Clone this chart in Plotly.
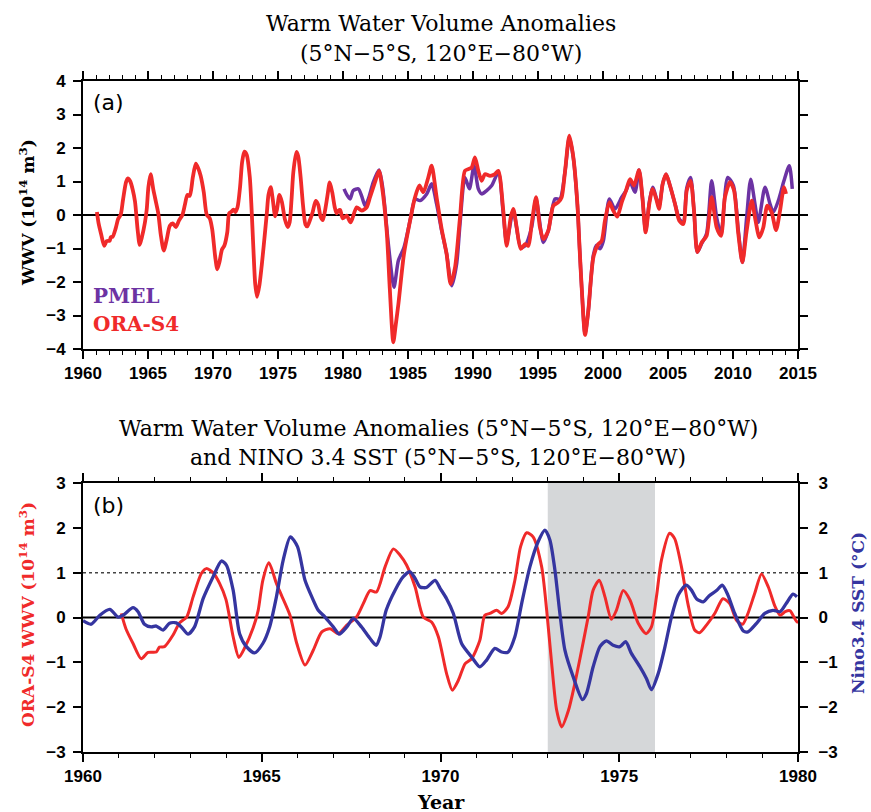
import plotly.graph_objects as go

# ---------------- data ----------------
ora_years = [1961.07, 1961.2, 1961.4, 1961.63, 1961.82, 1962.05, 1962.14, 1962.28, 1962.52, 1962.7, 1962.9,
             1963.08, 1963.31, 1963.45, 1963.64, 1963.82, 1964.0, 1964.2, 1964.36, 1964.52, 1964.76, 1964.9,
             1965.03, 1965.2, 1965.41, 1965.55, 1965.79, 1965.98, 1966.21, 1966.44, 1966.68, 1966.91, 1967.14,
             1967.38, 1967.65, 1967.84, 1968.03, 1968.21, 1968.45, 1968.68, 1968.87, 1969.05, 1969.29, 1969.52,
             1969.75, 1969.94, 1970.17, 1970.33, 1970.5, 1970.69, 1970.87, 1971.1, 1971.24, 1971.38, 1971.57,
             1971.71, 1971.89, 1972.08, 1972.24, 1972.41, 1972.59, 1972.83, 1972.97, 1973.11, 1973.25, 1973.39,
             1973.58, 1973.75, 1973.9, 1974.13, 1974.27, 1974.44, 1974.6, 1974.78, 1974.92, 1975.11, 1975.3,
             1975.53, 1975.75, 1975.9, 1976.04, 1976.18, 1976.41, 1976.55, 1976.74, 1976.92, 1977.11, 1977.25,
             1977.44, 1977.67, 1977.9, 1978.09, 1978.28, 1978.45, 1978.6, 1978.79, 1978.98, 1979.17, 1979.36,
             1979.5, 1979.64, 1979.78, 1979.98,
             1980.28, 1980.59, 1981.05, 1981.44, 1981.82, 1982.08, 1982.46, 1982.77, 1982.97, 1983.36, 1983.6,
             1983.87, 1984.05, 1984.26, 1984.69, 1985.21, 1985.54, 1985.87, 1986.18, 1986.56, 1986.82, 1987.2,
             1987.59, 1987.97, 1988.28, 1988.62, 1989.0, 1989.38, 1989.64, 1989.9, 1990.15, 1990.41, 1990.67,
             1990.92, 1991.31, 1991.69, 1991.95, 1992.33, 1992.59, 1992.9, 1993.1, 1993.36, 1993.67, 1994.0,
             1994.26, 1994.51, 1994.85, 1995.15, 1995.41, 1995.79, 1996.18, 1996.56, 1996.82, 1997.08, 1997.41,
             1997.72, 1998.03, 1998.2, 1998.36, 1998.62, 1998.87, 1999.26, 1999.64, 1999.9, 2000.15, 2000.49,
             2000.79, 2001.1, 2001.44, 2001.77, 2002.08, 2002.38, 2002.77, 2003.03, 2003.28, 2003.56, 2003.82,
             2004.13, 2004.31, 2004.59, 2004.85, 2005.15, 2005.54, 2005.87, 2006.18, 2006.44, 2006.74, 2007.0,
             2007.26, 2007.59, 2007.97, 2008.36, 2008.74, 2009.08, 2009.38, 2009.77, 2010.08, 2010.41, 2010.72,
             2011.05, 2011.44, 2011.69, 2012.03, 2012.33, 2012.64, 2012.97, 2013.31, 2013.62, 2013.92, 2014.08]
ora_wwv = [0.09, -0.25, -0.58, -0.92, -0.78, -0.77, -0.66, -0.65, -0.39, -0.12, 0.01,
           0.46, 0.98, 1.09, 1.0, 0.76, 0.4, -0.43, -0.89, -0.68, -0.23, 0.16,
           0.83, 1.22, 0.76, 0.5, 0.05, -0.58, -1.06, -0.73, -0.32, -0.25, -0.36,
           -0.17, 0.01, 0.31, 0.6, 0.57, 1.13, 1.53, 1.39, 1.17, 0.68, 0.01,
           -0.1, -0.43, -1.25, -1.62, -1.4, -1.03, -0.92, -0.51, 0.05, 0.09, 0.16,
           0.09, 0.24, 0.83, 1.58, 1.89, 1.8, 1.13, 0.16, -1.03, -2.07, -2.44,
           -2.07, -1.5, -0.92, 0.01, 0.61, 0.83, 0.46, -0.04, 0.16, 0.6, 0.39,
           -0.13, -0.36, -0.21, 0.46, 1.28, 1.88, 1.76, 1.13, 0.31, -0.28, -0.34,
           -0.17, 0.09, 0.42, 0.31, -0.06, -0.15, 0.09, 0.54, 0.97, 0.68, 0.24,
           0.05, 0.13, 0.15, -0.1,
           -0.02, -0.22, 0.23, 0.13, 0.23, 0.53, 0.98, 1.32, 0.93, -0.47, -2.2,
           -3.8, -3.3, -2.66, -1.16, -0.07, 0.53, 0.88, 0.68, 1.12, 1.47, 0.53,
           -0.42, -1.16, -2.06, -1.56, -0.07, 1.32, 1.37, 1.42, 1.72, 1.32, 1.02,
           1.22, 1.17, 1.22, 1.32, 0.13, -0.92, -0.07, 0.18, -0.37, -1.01, -0.87,
           -0.92, -0.27, 0.53, -0.37, -0.72, -0.47, 0.28, 0.38, 0.53, 1.3, 2.37,
           1.72, 0.33, -1.0, -2.16, -3.58, -2.86, -1.26, -0.87, -0.77, -0.17, 0.38,
           0.13, -0.05, 0.38, 0.73, 1.07, 0.88, 1.34, 0.53, -0.52, 0.33, 0.78,
           0.43, 0.18, 0.93, 1.22, 0.88, 0.33, -0.17, -0.27, 0.73, 1.02, 0.13,
           -1.11, -0.82, -0.62, 0.53, -0.37, -0.62, 0.53, 0.98, 0.73, -0.57, -1.41,
           -0.47, 0.43, -0.07, -0.67, -0.37, 0.28, 0.08, -0.45, 0.13, 0.83, 0.63]

pmel_years = [1980.08, 1980.3, 1980.54, 1980.79, 1981.18, 1981.45, 1981.69, 1981.95, 1982.33, 1982.77, 1983.05,
              1983.49, 1983.92, 1984.26, 1984.69, 1985.21, 1985.54, 1985.92, 1986.44, 1986.82, 1987.2, 1987.59,
              1987.97, 1988.36, 1988.74, 1989.0, 1989.38, 1989.72, 1990.08, 1990.41, 1990.67, 1991.05, 1991.44,
              1991.95, 1992.33, 1992.59, 1993.1, 1993.67, 1994.0, 1994.51, 1994.85, 1995.41, 1995.79, 1996.31,
              1996.69, 1997.08, 1997.41, 1997.72, 1998.03, 1998.2, 1998.36, 1998.62, 1998.87, 1999.26, 1999.5,
              1999.77, 2000.03, 2000.49, 2000.92, 2001.44, 2001.77, 2002.08, 2002.46, 2002.77, 2003.03, 2003.28,
              2003.56, 2003.82, 2004.31, 2004.59, 2004.85, 2005.15, 2005.54, 2005.87, 2006.18, 2006.44, 2006.74,
              2007.0, 2007.26, 2007.59, 2007.97, 2008.36, 2008.74, 2009.08, 2009.59, 2010.03, 2010.41, 2010.72,
              2011.05, 2011.36, 2011.69, 2011.95, 2012.46, 2012.85, 2013.1, 2013.49, 2013.92, 2014.33, 2014.56]
pmel_wwv = [0.78, 0.6, 0.48, 0.73, 0.78, 0.55, 0.28, 0.48, 0.98, 1.34, 0.83,
            -0.87, -2.16, -1.36, -0.97, -0.07, 0.48, 0.43, 0.63, 0.93, 0.33, -0.47,
            -1.16, -2.11, -1.46, -0.27, 1.12, 0.78, 1.47, 0.78, 0.63, 0.73, 0.88,
            1.27, 0.03, -0.82, 0.13, -0.97, -0.92, -0.37, 0.48, -0.82, -0.47, 0.48,
            0.48, 1.3, 2.32, 1.7, 0.3, -1.0, -2.16, -3.55, -2.86, -1.2, -0.9,
            -1.01, -0.77, 0.48, 0.18, 0.53, 0.73, 0.98, 0.68, 1.34, 0.53, -0.48,
            0.38, 0.83, 0.28, 0.93, 1.22, 0.88, 0.33, -0.12, -0.22, 0.8, 1.12,
            0.13, -1.11, -0.85, -0.55, 1.02, -0.07, -0.57, 1.12, 0.88, -0.47, -1.41,
            -0.07, 1.07, 0.33, -0.22, 0.83, 0.33, 0.08, 0.43, 1.02, 1.47, 0.78]

nino_years = [1960.0, 1960.23, 1960.47, 1960.75, 1960.98, 1961.12, 1961.4, 1961.54, 1961.72, 1961.91, 1962.05,
              1962.24, 1962.42, 1962.61, 1962.75, 1962.94, 1963.12, 1963.36, 1963.64, 1963.87, 1964.01, 1964.2,
              1964.38, 1964.57, 1964.8, 1965.03, 1965.22, 1965.41, 1965.6, 1965.8, 1966.0, 1966.21, 1966.4,
              1966.58, 1966.77, 1967.0, 1967.17, 1967.38, 1967.56, 1967.79, 1968.03, 1968.2, 1968.31, 1968.48,
              1968.73, 1968.96, 1969.15, 1969.29, 1969.43, 1969.61, 1969.85, 1969.99, 1970.17, 1970.36, 1970.59,
              1970.87, 1971.1, 1971.29, 1971.52, 1971.71, 1971.89, 1972.08, 1972.27, 1972.5, 1972.73, 1972.92,
              1973.06, 1973.2, 1973.34, 1973.48, 1973.71, 1973.97, 1974.08, 1974.27, 1974.46, 1974.64, 1974.83,
              1975.02, 1975.18, 1975.34, 1975.58, 1975.76, 1975.9, 1976.09, 1976.28, 1976.46, 1976.65, 1976.87,
              1977.02, 1977.16, 1977.35, 1977.51, 1977.72, 1977.88, 1978.04, 1978.23, 1978.47, 1978.6, 1978.84,
              1979.07, 1979.3, 1979.5, 1979.67, 1979.86, 1979.97]
nino_sst = [-0.07, -0.15, 0.05, 0.18, 0.01, 0.05, 0.22, 0.13, -0.15, -0.21, -0.19,
            -0.28, -0.13, -0.12, -0.21, -0.37, -0.21, 0.42, 0.91, 1.26, 1.17, 0.61,
            -0.36, -0.65, -0.79, -0.58, -0.21, 0.46, 1.28, 1.8, 1.58, 0.83, 0.46,
            0.16, 0.01, -0.21, -0.37, -0.21, -0.02, -0.21, -0.47, -0.62, -0.43, 0.16,
            0.61, 0.91, 1.02, 0.87, 0.68, 0.67, 0.83, 0.65, 0.42, 0.09, -0.58,
            -0.88, -1.1, -0.95, -0.69, -0.77, -0.77, -0.43, 0.31, 1.13, 1.69, 1.95,
            1.73, 1.06, 0.09, -0.73, -1.32, -1.83, -1.7, -1.1, -0.65, -0.52, -0.62,
            -0.65, -0.54, -0.8, -1.1, -1.36, -1.61, -1.25, -0.65, 0.01, 0.5, 0.72,
            0.61, 0.42, 0.35, 0.48, 0.6, 0.72, 0.5, 0.09, -0.3, -0.32, -0.13,
            0.09, 0.16, 0.13, 0.31, 0.52, 0.46]

shade_period = [1973, 1976]
threshold = 1

# ---------------- styles ----------------
RED = "#f02a2a"
PURPLE = "#6c33a3"
BLUE = "#3535a0"
W, H = 871, 812
TICKFONT = dict(family="Liberation Sans, Arial, sans-serif", size=17, color="black", weight="bold")
TITLEFONT = dict(family="DejaVu Serif, serif", size=22, color="black")

fig = go.Figure()

# panel (a)
fig.add_trace(go.Scatter(x=pmel_years, y=pmel_wwv, mode="lines", name="PMEL",
                         line=dict(color=PURPLE, width=3.5, shape="spline", smoothing=0.7),
                         xaxis="x", yaxis="y", showlegend=False))
fig.add_trace(go.Scatter(x=ora_years, y=ora_wwv, mode="lines", name="ORA-S4",
                         line=dict(color=RED, width=3.8, shape="spline", smoothing=0.7),
                         xaxis="x", yaxis="y", showlegend=False))
# panel (b)
fig.add_trace(go.Scatter(x=ora_years, y=ora_wwv, mode="lines", name="ORA-S4 WWV",
                         line=dict(color=RED, width=3, shape="spline", smoothing=0.7),
                         xaxis="x2", yaxis="y2", showlegend=False))
fig.add_trace(go.Scatter(x=nino_years, y=nino_sst, mode="lines", name="Nino3.4 SST",
                         line=dict(color=BLUE, width=3.3, shape="spline", smoothing=0.7),
                         xaxis="x2", yaxis="y3", showlegend=False))

xdom = [83 / W, 798 / W]
ya_dom = [1 - 349 / H, 1 - 81 / H]
yb_dom = [1 - 752 / H, 1 - 483 / H]

axis_common = dict(showline=True, linecolor="black", linewidth=2, mirror="ticks", ticks="outside",
                   ticklen=8, tickwidth=1.5, tickcolor="black", showgrid=False, zeroline=False,
                   tickfont=TICKFONT, automargin=False)

fig.update_layout(
    width=W, height=H,
    margin=dict(l=0, r=0, t=0, b=0, autoexpand=False),
    paper_bgcolor="white", plot_bgcolor="white",
    xaxis=dict(domain=xdom, anchor="y", range=[1960, 2015], tickvals=list(range(1960, 2016, 5)),
               minor=dict(ticks="outside", ticklen=4, tickwidth=1.2, tickcolor="black", dtick=1, tick0=1960),
               ticklabelstandoff=0, **axis_common),
    yaxis=dict(domain=ya_dom, anchor="x", range=[-4, 4], tickvals=list(range(-4, 5)),
               ticklabelstandoff=4, **axis_common),
    xaxis2=dict(domain=xdom, anchor="y2", range=[1960, 1980], tickvals=list(range(1960, 1981, 5)),
                minor=dict(ticks="outside", ticklen=4, tickwidth=1.2, tickcolor="black", dtick=1, tick0=1960),
                ticklabelstandoff=0, **axis_common),
    yaxis2=dict(domain=yb_dom, anchor="x2", range=[-3, 3], tickvals=list(range(-3, 4)),
                ticklabelstandoff=4, **axis_common),
    yaxis3=dict(domain=yb_dom, anchor="x2", overlaying="y2", side="right", range=[-3, 3],
                tickvals=list(range(-3, 4)), showline=False, ticks="outside", ticklen=8, tickwidth=1.5,
                tickcolor="black", showgrid=False, zeroline=False, tickfont=TICKFONT, ticklabelstandoff=8,
                automargin=False),
)

shapes = [
    dict(type="rect", xref="x2", yref="y2 domain", x0=shade_period[0], x1=shade_period[1], y0=0, y1=1,
         fillcolor="#d5d7d9", line=dict(width=0), layer="below"),
    dict(type="line", xref="x domain", yref="y", x0=0, x1=1, y0=0, y1=0,
         line=dict(color="black", width=1.8), layer="below"),
    dict(type="line", xref="x2 domain", yref="y2", x0=0, x1=1, y0=0, y1=0,
         line=dict(color="black", width=2), layer="below"),
    dict(type="line", xref="x2 domain", yref="y2", x0=0, x1=1, y0=threshold, y1=threshold,
         line=dict(color="#444444", width=1.5, dash="dot"), layer="below"),
]
fig.update_layout(shapes=shapes)

def ann(text, x, y, font, angle=0, xanchor="center", yanchor="middle"):
    fig.add_annotation(text=text, x=x / W, y=1 - y / H, xref="paper", yref="paper", showarrow=False,
                       font=font, textangle=angle, xanchor=xanchor, yanchor=yanchor)

ann("Warm Water Volume Anomalies", 441, 24, TITLEFONT)
ann("(5°N−5°S, 120°E−80°W)", 441, 54, TITLEFONT)
ann("Warm Water Volume Anomalies (5°N−5°S, 120°E−80°W)", 438, 428, TITLEFONT)
ann("and NINO 3.4 SST (5°N−5°S, 120°E−80°W)", 438, 457, TITLEFONT)

ann("(a)", 91, 102, dict(family="DejaVu Sans, sans-serif", size=22, color="black"), xanchor="left")
ann("(b)", 91, 505, dict(family="DejaVu Sans, sans-serif", size=22, color="black"), xanchor="left")

LEGFONT = dict(family="DejaVu Serif, serif", size=20, weight="bold")
ann("PMEL", 91, 296, dict(LEGFONT, color=PURPLE), xanchor="left")
ann("ORA-S4", 91, 324, dict(LEGFONT, color=RED), xanchor="left")

AXT = dict(family="DejaVu Serif, serif", size=17, weight="bold")
ann("WWV (10<sup>14</sup> m<sup>3</sup>)", 27, 213, dict(AXT, color="black"), angle=-90)
ann("ORA-S4 WWV (10<sup>14</sup> m<sup>3</sup>)", 27, 615, dict(AXT, color=RED), angle=-90)
ann("Nino3.4 SST (°C)", 858, 613, dict(AXT, color=BLUE), angle=-90)
ann("Year", 441, 802, dict(family="DejaVu Serif, serif", size=19, weight="bold", color="black"))

fig.write_html("out.html")
